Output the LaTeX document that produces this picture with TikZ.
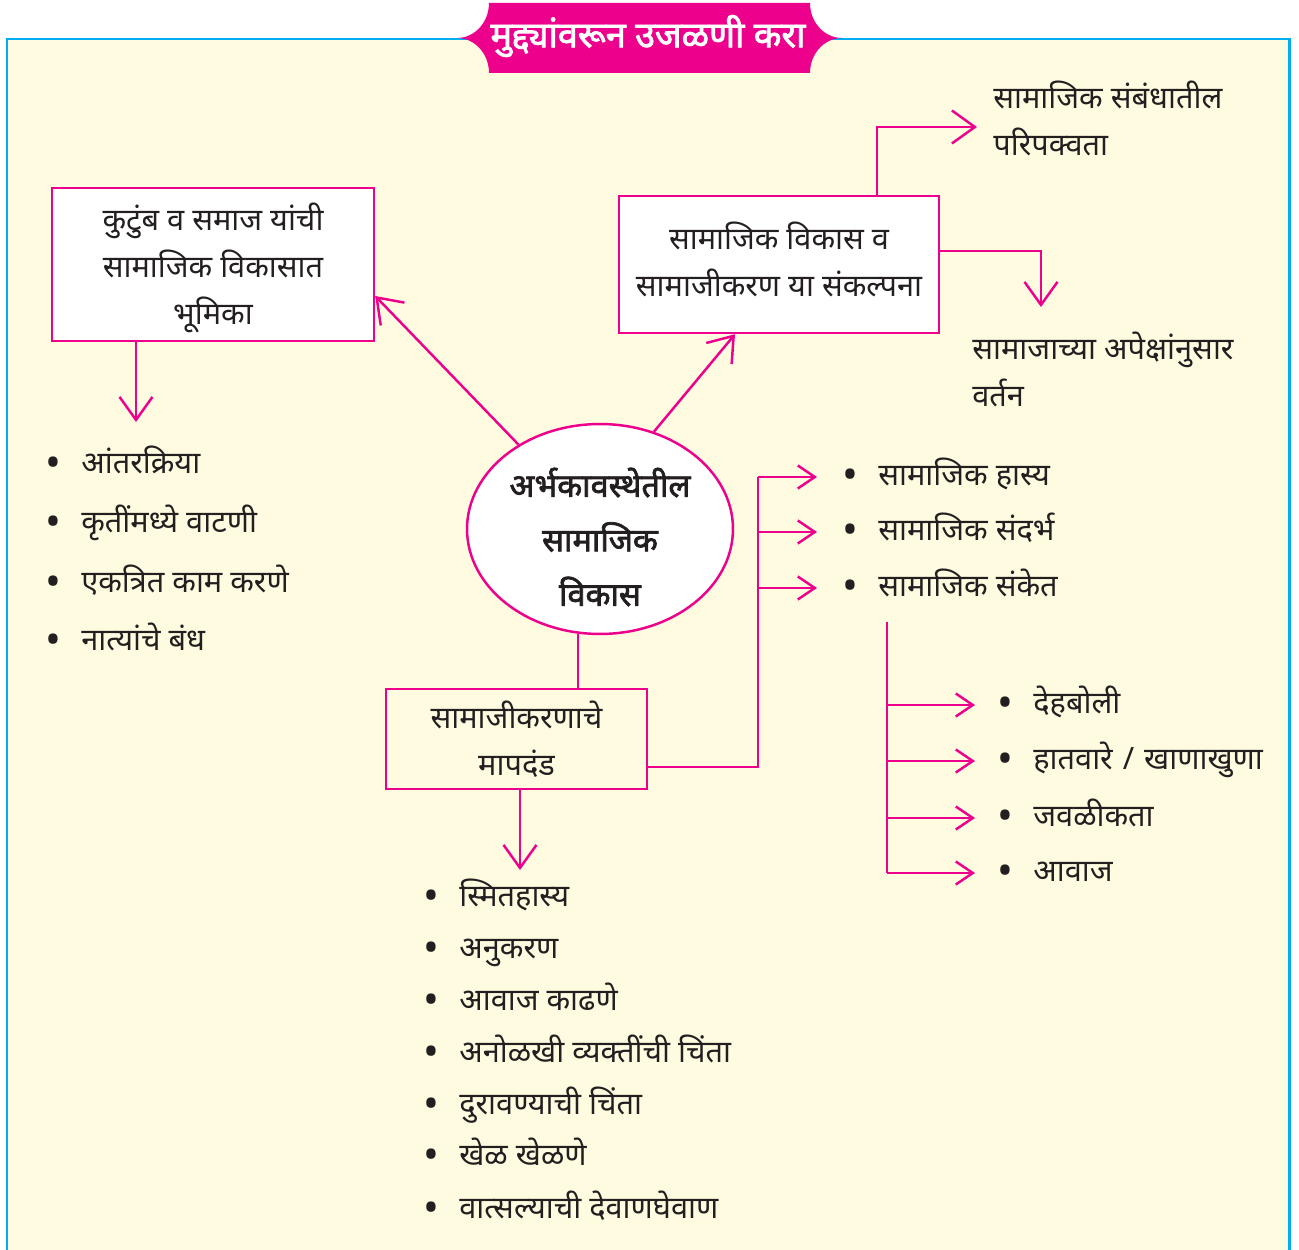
\documentclass[tikz,border=0pt]{standalone}
\usepackage{fontspec}
\setmainfont[Script=Devanagari,BoldFont={Noto Sans},BoldFeatures={FakeBold=2.2}]{Noto Sans}
\usetikzlibrary{arrows.meta, positioning, shapes.geometric}
\definecolor{mymagenta}{RGB}{236, 0, 140}
\definecolor{myblue}{RGB}{0, 174, 239}
\definecolor{mycream}{RGB}{255, 251, 224}
\definecolor{mytext}{RGB}{35, 31, 32}
\newcommand{\bul}{\makebox[0.72cm][l]{\fontsize{24}{24}\selectfont\raisebox{-0.08em}{•}}}

\begin{document}
\begin{tikzpicture}[x=0.02cm, y=-0.02cm,
          box/.style={draw=mymagenta,line width=1.4pt,align=center,
                      inner sep=0pt,text=mytext,font=\fontsize{17.5}{27}\selectfont},
          item/.style={anchor=west,inner sep=0pt,text=mytext,
                       text height=2.5ex,text depth=0.6ex,font=\fontsize{17.5}{20}\selectfont},
          note/.style={anchor=west,align=left,inner sep=0pt,text=mytext,
                       font=\fontsize{17.5}{26.5}\selectfont},
          conn/.style={mymagenta,line width=1.4pt},
          arr/.style={conn,-{Straight Barb[length=0.46cm,width=0.66cm]}},
          sarr/.style={conn,-{Straight Barb[length=0.34cm,width=0.46cm]},shorten >=0.5cm}]
        \useasboundingbox (0,0) rectangle (1299,1250);
        \fill[mycream] (7,39) rectangle (1289,1250);
        \draw[myblue,line width=1.7pt] (7,1250) -- (7,39) -- (1289,39) -- (1289,1250);
        \fill[mymagenta] (489,3) -- (810,3)
          .. controls (810,22) and (824,38) .. (842,38)
          .. controls (824,38) and (810,54) .. (810,73) -- (489,73)
          .. controls (489,54) and (475,38) .. (457,38)
          .. controls (475,38) and (489,22) .. (489,3) -- cycle;
        \node[text=white,font=\fontsize{20.5}{22}\selectfont\bfseries](title) at (648,36)
          {मुद्द्यांवरून उजळणी करा};
        \node[box,fill=white,minimum width=6.44cm,minimum height=3.06cm](kut) at (213,264.5) {};
        \node[box,draw=none](kuttxt) at (213,268)
          {कुटुंब व समाज यांची\\सामाजिक विकासात\\भूमिका};
        \node[box,fill=white,minimum width=6.4cm,minimum height=2.74cm](kbox) at (779,264.5) {};
        \node[box,draw=none](kboxtxt) at (779,259.5)
          {सामाजिक विकास व\\सामाजीकरण या संकल्पना};
        \node[box,ellipse,fill=white,minimum width=5.32cm,minimum height=4.2cm](bal) at (600,529) {};
        \node[box,draw=none,font=\fontsize{18.5}{31}\selectfont\bfseries](baltxt) at (600,537)
          {अर्भकावस्थेतील\\सामाजिक\\विकास};
        \node[box,minimum width=5.22cm,minimum height=2cm](map) at (516.5,739)
          {सामाजीकरणाचे\\मापदंड};
        \node[note](mat) at (993,118.5) {सामाजिक संबंधातील\\परिपक्वता};
        \node[note](apk) at (972,369.5) {सामाजाच्या अपेक्षांनुसार\\वर्तन};
        \node[item](k1) at (45,465) {\bul आंतरक्रिया};
        \node[item](k2) at (45,524) {\bul कृतींमध्ये वाटणी};
        \node[item](k3) at (45,584) {\bul एकत्रित काम करणे};
        \node[item](k4) at (45,642) {\bul नात्यांचे बंध};
        \node[item](h1) at (842,477) {\bul सामाजिक हास्य};
        \node[item](h2) at (842,532) {\bul सामाजिक संदर्भ};
        \node[item](h3) at (842,588) {\bul सामाजिक संकेत};
        \node[item](d1) at (997,705) {\bul देहबोली};
        \node[item](d2) at (997,761) {\bul हातवारे\hspace{0.2cm}/\hspace{0.2cm}खाणाखुणा};
        \node[item](d3) at (997,818) {\bul जवळीकता};
        \node[item](d4) at (997,873) {\bul आवाज};
        \node[item](m1) at (423,898) {\bul स्मितहास्य};
        \node[item](m2) at (423,950) {\bul अनुकरण};
        \node[item](m3) at (423,1002) {\bul आवाज काढणे};
        \node[item](m4) at (423,1054) {\bul अनोळखी व्यक्तींची चिंता};
        \node[item](m5) at (423,1106) {\bul दुरावण्याची चिंता};
        \node[item](m6) at (423,1157) {\bul खेळ खेळणे};
        \node[item](m7) at (423,1210) {\bul वात्सल्याची देवाणघेवाण};
        \coordinate (kd) at (136,422);
        \coordinate (bu) at (977,127);
        \coordinate (bd) at (1041,307);
        \coordinate (md) at (520,870);
        \coordinate (tr) at (758,477);
        \coordinate (tr2) at (887,622);
        \draw[arr](bal.134)--([yshift=-0.63cm]kut.east);
        \draw[arr](bal.61)--([xshift=-0.88cm]kbox.south);
        \draw[conn](bal.258)--(bal.258|-map.north);
        \draw[arr](kut.south-|kd)--(kd);
        \draw[arr]([xshift=1.96cm]kbox.north)|-(bu);
        \draw[arr]([yshift=0.27cm]kbox.east)-|(bd);
        \draw[arr](map.south-|md)--(md);
        \draw[conn]([yshift=-0.56cm]map.east)-|(tr);
        \draw[sarr](tr)--(h1.west);
        \draw[sarr](tr|-h2)--(h2.west);
        \draw[sarr](tr|-h3)--(h3.west);
        \draw[conn](tr2)--(tr2|-d4);
        \draw[sarr,shorten >=0.44cm](tr2|-d1)--(d1.west);
        \draw[sarr,shorten >=0.44cm](tr2|-d2)--(d2.west);
        \draw[sarr,shorten >=0.44cm](tr2|-d3)--(d3.west);
        \draw[sarr,shorten >=0.44cm](tr2|-d4)--(d4.west);
      \end{tikzpicture}
\end{document}
